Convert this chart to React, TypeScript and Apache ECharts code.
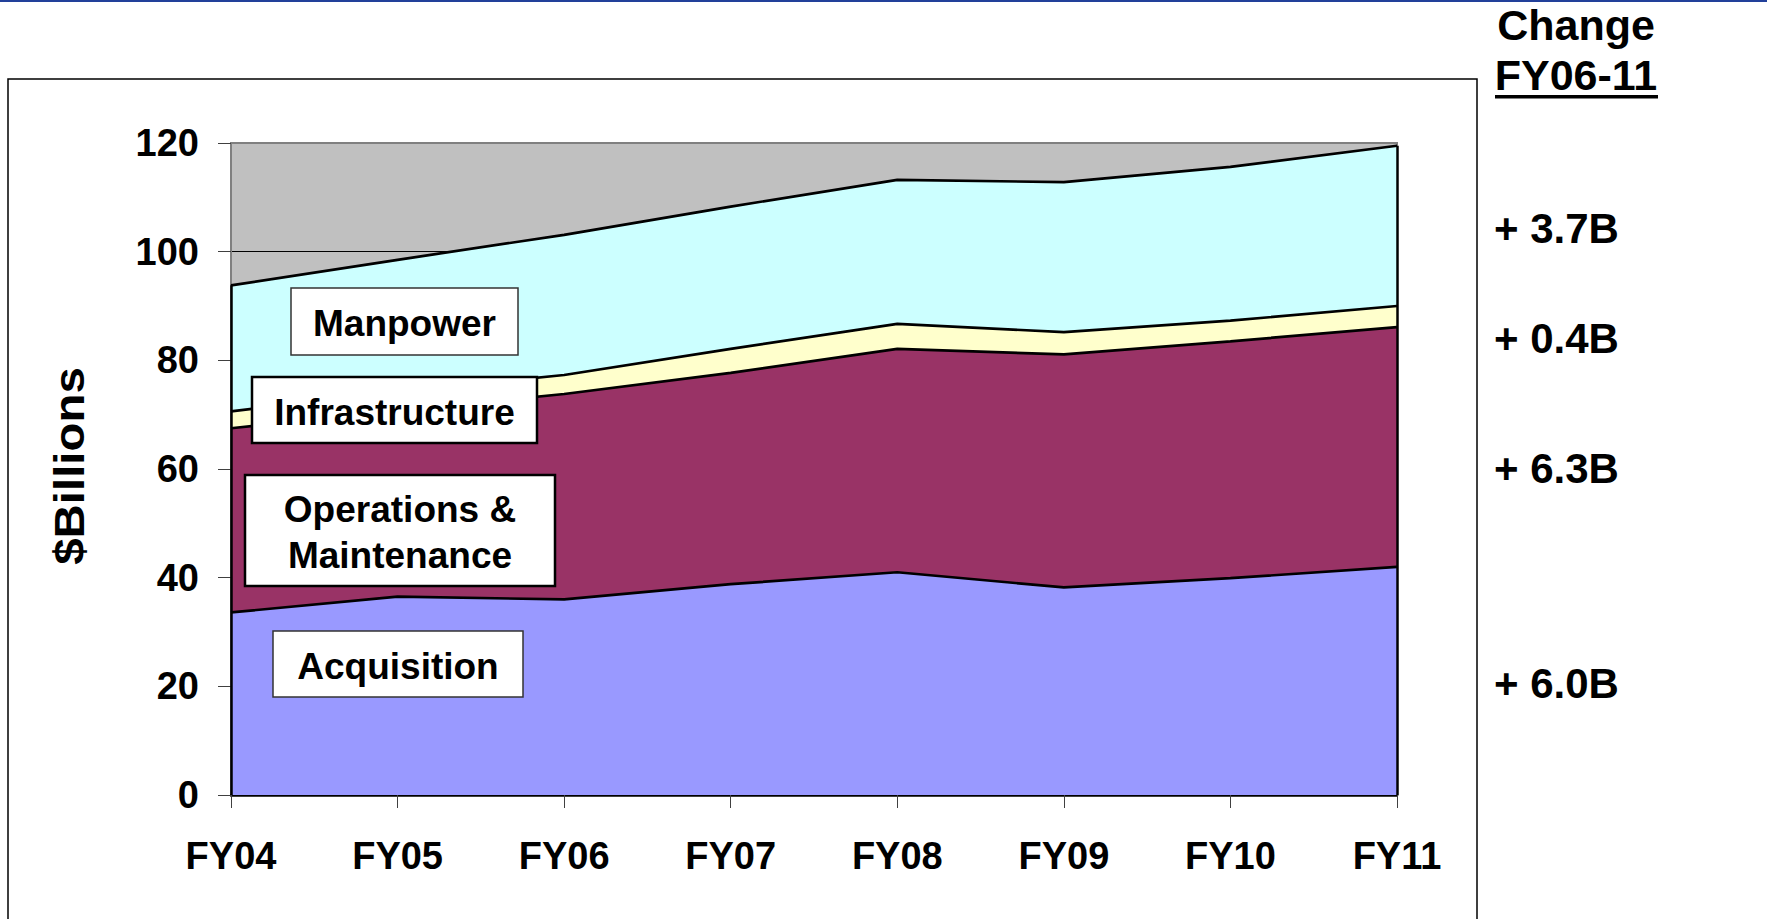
import React, { useEffect, useRef } from "react";
import * as echarts from "echarts";

const categories = ["FY04", "FY05", "FY06", "FY07", "FY08", "FY09", "FY10", "FY11"];
const acquisition = [33.6, 36.5, 36.0, 38.8, 41.0, 38.2, 39.9, 42.0];
const operations = [33.9, 34.2, 37.8, 38.9, 41.1, 42.9, 43.6, 44.1];
const infrastructure = [3.1, 3.5, 3.5, 4.4, 4.6, 4.1, 3.8, 3.9];
const manpower = [23.2, 24.3, 25.8, 26.2, 26.5, 27.6, 28.3, 29.5];
const yTicks = { min: 0, max: 120, interval: 20 };
const changeLabels = ["+ 3.7B", "+ 0.4B", "+ 6.3B", "+ 6.0B"];

const FONT = "'Liberation Sans', Arial, Helvetica, sans-serif";

export default function App() {
  const ref = useRef<HTMLDivElement>(null);

  useEffect(() => {
    if (!ref.current) return;
    const chart = echarts.init(ref.current, undefined, { renderer: "svg" });

    const totals = categories.map(
      (_, i) => acquisition[i] + operations[i] + infrastructure[i] + manpower[i]
    );
    const last = categories.length - 1;

    const edge = { color: "#000", width: 2.7 };
    const mkArea = (name: string, data: number[], color: string, extra: any = {}) => ({
      name,
      type: "line",
      stack: "total",
      data,
      symbol: "none",
      smooth: false,
      lineStyle: edge,
      areaStyle: { color, opacity: 1 },
      ...extra,
    });

    const changeY = [228, 338, 468, 683];

    const labelBox = (
      x: number,
      y: number,
      w: number,
      h: number,
      text: string,
      stroke: string,
      lw: number
    ) => [
      {
        type: "rect",
        z: 100,
        shape: { x, y, width: w, height: h },
        style: { fill: "#fff", stroke, lineWidth: lw },
      },
      {
        type: "text",
        z: 101,
        x: x + w / 2,
        y: y + h / 2 + 2,
        style: {
          text,
          font: `bold 37px ${FONT}`,
          fill: "#000",
          align: "center",
          verticalAlign: "middle",
          lineHeight: 46,
        },
      },
    ];

    chart.setOption({
      animation: false,
      backgroundColor: "#fff",
      grid: {
        left: 231,
        right: 370,
        top: 143,
        bottom: 124,
        show: true,
        backgroundColor: "#C0C0C0",
        borderColor: "#808080",
        borderWidth: 2,
      },
      xAxis: {
        type: "category",
        data: categories,
        boundaryGap: false,
        axisLine: { show: true, lineStyle: { color: "#000", width: 2.5 } },
        axisTick: { show: true, length: 13, lineStyle: { color: "#404040", width: 1 } },
        axisLabel: {
          color: "#000",
          fontFamily: FONT,
          fontWeight: "bold",
          fontSize: 38,
          margin: 42,
        },
        splitLine: { show: false },
      },
      yAxis: {
        type: "value",
        min: yTicks.min,
        max: yTicks.max,
        interval: yTicks.interval,
        axisLine: { show: true, lineStyle: { color: "#808080", width: 2 } },
        axisTick: { show: true, length: 13, lineStyle: { color: "#404040", width: 1 } },
        axisLabel: {
          color: "#000",
          fontFamily: FONT,
          fontWeight: "bold",
          fontSize: 38,
          margin: 32,
        },
        splitLine: {
          show: true,
          lineStyle: {
            color: ["#000", "#000", "#000", "#000", "#000", "#000", "#808080"],
            width: 1,
          },
        },
      },
      series: [
        mkArea("Acquisition", acquisition, "#9999FF"),
        mkArea("Operations & Maintenance", operations, "#993366"),
        mkArea("Infrastructure", infrastructure, "#FFFFCC"),
        mkArea("Manpower", manpower, "#CCFFFF", {
          markLine: {
            silent: true,
            symbol: "none",
            label: { show: false },
            lineStyle: { color: "#000", width: 2.5, type: "solid" },
            data: [
              [
                { coord: [categories[0], 0] },
                { coord: [categories[0], totals[0]] },
              ],
              [
                { coord: [categories[last], 0] },
                { coord: [categories[last], totals[last]] },
              ],
            ],
          },
        }),
      ],
      graphic: [
        {
          type: "rect",
          shape: { x: 0, y: 0, width: 1767, height: 2 },
          style: { fill: "#22409A" },
        },
        {
          type: "rect",
          shape: { x: 8, y: 79, width: 1469, height: 900 },
          style: { fill: "none", stroke: "#000", lineWidth: 1.5 },
          z: -1,
        },
        {
          type: "text",
          x: 69,
          y: 466,
          rotation: Math.PI / 2,
          scaleX: 1.13,
          style: {
            text: "$Billions",
            font: `bold 42px ${FONT}`,
            fill: "#000",
            align: "center",
            verticalAlign: "middle",
          },
        },
        {
          type: "text",
          x: 1576,
          y: 25,
          style: {
            text: "Change",
            font: `bold 43px ${FONT}`,
            fill: "#000",
            align: "center",
            verticalAlign: "middle",
          },
        },
        {
          type: "text",
          x: 1576,
          y: 75,
          style: {
            text: "FY06-11",
            font: `bold 43px ${FONT}`,
            fill: "#000",
            align: "center",
            verticalAlign: "middle",
          },
        },
        {
          type: "rect",
          shape: { x: 1495, y: 95, width: 163, height: 3.5 },
          style: { fill: "#000" },
        },
        ...changeLabels.map((t, i) => ({
          type: "text",
          x: 1494,
          y: changeY[i],
          style: {
            text: t,
            font: `bold 42px ${FONT}`,
            fill: "#000",
            align: "left",
            verticalAlign: "middle",
          },
        })),
        ...labelBox(291, 288, 227, 67, "Manpower", "#333", 1.5),
        ...labelBox(252, 377, 285, 66, "Infrastructure", "#000", 2.5),
        ...labelBox(245, 475, 310, 111, "Operations &\nMaintenance", "#000", 2.5),
        ...labelBox(273, 631, 250, 66, "Acquisition", "#333", 1.5),
      ],
    });

    return () => chart.dispose();
  }, []);

  return (
    <div
      ref={ref}
      style={{ position: "absolute", left: 0, top: 0, width: 1767, height: 919 }}
    />
  );
}
